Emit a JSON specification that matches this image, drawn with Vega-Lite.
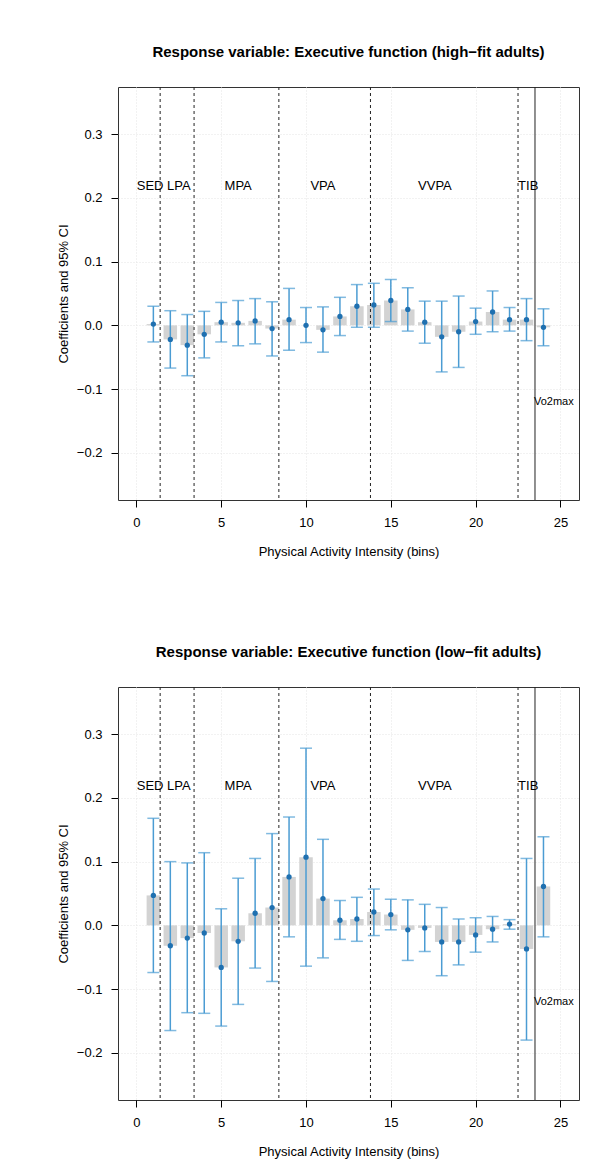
{
  "$schema": "https://vega.github.io/schema/vega-lite/v6.json",
  "background": "white",
  "padding": {"left": 56, "top": 44, "right": 10, "bottom": 0},
  "spacing": 85,
  "datasets": {
    "high": [
      {"bin": 1, "est": 0.002, "lo": -0.026, "hi": 0.030},
      {"bin": 2, "est": -0.022, "lo": -0.067, "hi": 0.023},
      {"bin": 3, "est": -0.031, "lo": -0.079, "hi": 0.017},
      {"bin": 4, "est": -0.014, "lo": -0.051, "hi": 0.022},
      {"bin": 5, "est": 0.005, "lo": -0.026, "hi": 0.036},
      {"bin": 6, "est": 0.004, "lo": -0.032, "hi": 0.039},
      {"bin": 7, "est": 0.007, "lo": -0.029, "hi": 0.042},
      {"bin": 8, "est": -0.005, "lo": -0.048, "hi": 0.037},
      {"bin": 9, "est": 0.009, "lo": -0.039, "hi": 0.058},
      {"bin": 10, "est": 0.000, "lo": -0.027, "hi": 0.028},
      {"bin": 11, "est": -0.007, "lo": -0.042, "hi": 0.029},
      {"bin": 12, "est": 0.014, "lo": -0.016, "hi": 0.044},
      {"bin": 13, "est": 0.030, "lo": -0.003, "hi": 0.064},
      {"bin": 14, "est": 0.032, "lo": -0.003, "hi": 0.066},
      {"bin": 15, "est": 0.039, "lo": 0.006, "hi": 0.072},
      {"bin": 16, "est": 0.025, "lo": -0.009, "hi": 0.059},
      {"bin": 17, "est": 0.005, "lo": -0.028, "hi": 0.038},
      {"bin": 18, "est": -0.018, "lo": -0.073, "hi": 0.038},
      {"bin": 19, "est": -0.010, "lo": -0.066, "hi": 0.046},
      {"bin": 20, "est": 0.006, "lo": -0.014, "hi": 0.027},
      {"bin": 21, "est": 0.021, "lo": -0.010, "hi": 0.054},
      {"bin": 22, "est": 0.009, "lo": -0.009, "hi": 0.028},
      {"bin": 23, "est": 0.009, "lo": -0.024, "hi": 0.042},
      {"bin": 24, "est": -0.003, "lo": -0.032, "hi": 0.026}
    ],
    "low": [
      {"bin": 1, "est": 0.047, "lo": -0.074, "hi": 0.168},
      {"bin": 2, "est": -0.032, "lo": -0.165, "hi": 0.100},
      {"bin": 3, "est": -0.020, "lo": -0.137, "hi": 0.098},
      {"bin": 4, "est": -0.012, "lo": -0.138, "hi": 0.114},
      {"bin": 5, "est": -0.066, "lo": -0.158, "hi": 0.026},
      {"bin": 6, "est": -0.025, "lo": -0.124, "hi": 0.074},
      {"bin": 7, "est": 0.019, "lo": -0.067, "hi": 0.105},
      {"bin": 8, "est": 0.028, "lo": -0.088, "hi": 0.144},
      {"bin": 9, "est": 0.076, "lo": -0.018, "hi": 0.170},
      {"bin": 10, "est": 0.107, "lo": -0.064, "hi": 0.278},
      {"bin": 11, "est": 0.042, "lo": -0.051, "hi": 0.135},
      {"bin": 12, "est": 0.008, "lo": -0.022, "hi": 0.039},
      {"bin": 13, "est": 0.010, "lo": -0.025, "hi": 0.044},
      {"bin": 14, "est": 0.021, "lo": -0.016, "hi": 0.057},
      {"bin": 15, "est": 0.017, "lo": -0.007, "hi": 0.041},
      {"bin": 16, "est": -0.007, "lo": -0.055, "hi": 0.040},
      {"bin": 17, "est": -0.004, "lo": -0.041, "hi": 0.033},
      {"bin": 18, "est": -0.026, "lo": -0.079, "hi": 0.028},
      {"bin": 19, "est": -0.026, "lo": -0.062, "hi": 0.010},
      {"bin": 20, "est": -0.015, "lo": -0.042, "hi": 0.012},
      {"bin": 21, "est": -0.006, "lo": -0.026, "hi": 0.014},
      {"bin": 22, "est": 0.002, "lo": -0.006, "hi": 0.009},
      {"bin": 23, "est": -0.037, "lo": -0.180, "hi": 0.105},
      {"bin": 24, "est": 0.061, "lo": -0.018, "hi": 0.139}
    ],
    "cuts": [
      {"at": 1.4, "kind": "dashed"},
      {"at": 3.4, "kind": "dashed"},
      {"at": 8.4, "kind": "dashed"},
      {"at": 13.8, "kind": "dashed"},
      {"at": 22.5, "kind": "dashed"},
      {"at": 23.5, "kind": "solid"}
    ],
    "regions": [
      {"label": "SED", "at": 0.81, "level": 0.218},
      {"label": "LPA", "at": 2.5, "level": 0.218},
      {"label": "MPA", "at": 6.0, "level": 0.218},
      {"label": "VPA", "at": 11.0, "level": 0.218},
      {"label": "VVPA", "at": 17.6, "level": 0.218},
      {"label": "TIB", "at": 23.1, "level": 0.218}
    ],
    "tag": [
      {"label": "Vo2max", "at": 23.5, "level": -0.121}
    ]
  },
  "config": {
    "font": "Liberation Sans",
    "view": {"stroke": "#333333", "strokeWidth": 1},
    "axis": {
      "labelFont": "Liberation Sans",
      "labelFontSize": 13,
      "labelColor": "#000000",
      "titleFont": "Liberation Sans",
      "titleFontSize": 13,
      "titleFontWeight": "normal",
      "titleColor": "#000000",
      "tickColor": "#000000",
      "tickSize": 7,
      "domain": false,
      "grid": true,
      "gridColor": "#e4e4e4",
      "gridDash": [1, 2],
      "gridWidth": 1
    },
    "title": {
      "font": "Liberation Sans",
      "fontSize": 15,
      "fontWeight": "bold",
      "color": "#000000",
      "anchor": "middle",
      "baseline": "alphabetic",
      "offset": 27
    }
  },
  "vconcat": [
    {
      "title": "Response variable: Executive function (high\u2212fit adults)",
      "width": 461,
      "height": 413,
      "layer": [
        {
          "data": {"name": "high"},
          "mark": {"type": "bar", "orient": "vertical", "size": 13.5, "color": "#d3d3d3"},
          "encoding": {
            "x": {"field": "bin", "type": "quantitative", "scale": {"domain": [-0.79, 25.8], "nice": false, "zero": false},
              "axis": {"values": [0, 5, 10, 15, 20, 25], "format": "d", "title": "Physical Activity Intensity (bins)", "labelPadding": 9, "titlePadding": 16}},
            "y": {"field": "est", "type": "quantitative", "scale": {"domain": [-0.274, 0.374], "nice": false, "zero": false},
              "axis": {"values": [-0.2, -0.1, 0, 0.1, 0.2, 0.3], "format": ".1f", "title": "Coefficients and 95% CI", "labelPadding": 9, "titlePadding": 6}}
          }
        },
        {
          "data": {"name": "cuts"},
          "mark": {"type": "rule", "color": "#222222", "strokeWidth": 1},
          "encoding": {
            "x": {"field": "at", "type": "quantitative"},
            "strokeDash": {"field": "kind", "type": "nominal", "scale": {"domain": ["dashed", "solid"], "range": [[3, 3], [1, 0]]}, "legend": null}
          }
        },
        {
          "mark": {"type": "rule", "color": "#666666", "strokeWidth": 1, "strokeDash": [3, 3]},
          "encoding": {"y": {"datum": 0, "type": "quantitative"}}
        },
        {
          "data": {"name": "high"},
          "mark": {"type": "rule", "color": "#4b9cd3", "strokeWidth": 1.5},
          "encoding": {
            "x": {"field": "bin", "type": "quantitative"},
            "y": {"field": "lo", "type": "quantitative"},
            "y2": {"field": "hi"}
          }
        },
        {
          "data": {"name": "high"},
          "mark": {"type": "tick", "orient": "horizontal", "color": "#4b9cd3", "size": 12, "thickness": 1.5},
          "encoding": {
            "x": {"field": "bin", "type": "quantitative"},
            "y": {"field": "lo", "type": "quantitative"}
          }
        },
        {
          "data": {"name": "high"},
          "mark": {"type": "tick", "orient": "horizontal", "color": "#4b9cd3", "size": 12, "thickness": 1.5},
          "encoding": {
            "x": {"field": "bin", "type": "quantitative"},
            "y": {"field": "hi", "type": "quantitative"}
          }
        },
        {
          "data": {"name": "high"},
          "mark": {"type": "circle", "color": "#1f70b0", "opacity": 1, "size": 28},
          "encoding": {
            "x": {"field": "bin", "type": "quantitative"},
            "y": {"field": "est", "type": "quantitative"}
          }
        },
        {
          "data": {"name": "regions"},
          "mark": {"type": "text", "fontSize": 13, "color": "#000000", "align": "center", "baseline": "middle"},
          "encoding": {
            "x": {"field": "at", "type": "quantitative"},
            "y": {"field": "level", "type": "quantitative"},
            "text": {"field": "label"}
          }
        },
        {
          "data": {"name": "tag"},
          "mark": {"type": "text", "fontSize": 11, "color": "#000000", "align": "left", "baseline": "middle", "dx": -1},
          "encoding": {
            "x": {"field": "at", "type": "quantitative"},
            "y": {"field": "level", "type": "quantitative"},
            "text": {"field": "label"}
          }
        }
      ]
    },
    {
      "title": "Response variable: Executive function (low\u2212fit adults)",
      "width": 461,
      "height": 413,
      "layer": [
        {
          "data": {"name": "low"},
          "mark": {"type": "bar", "orient": "vertical", "size": 13.5, "color": "#d3d3d3"},
          "encoding": {
            "x": {"field": "bin", "type": "quantitative", "scale": {"domain": [-0.79, 25.8], "nice": false, "zero": false},
              "axis": {"values": [0, 5, 10, 15, 20, 25], "format": "d", "title": "Physical Activity Intensity (bins)", "labelPadding": 9, "titlePadding": 16}},
            "y": {"field": "est", "type": "quantitative", "scale": {"domain": [-0.274, 0.374], "nice": false, "zero": false},
              "axis": {"values": [-0.2, -0.1, 0, 0.1, 0.2, 0.3], "format": ".1f", "title": "Coefficients and 95% CI", "labelPadding": 9, "titlePadding": 6}}
          }
        },
        {
          "data": {"name": "cuts"},
          "mark": {"type": "rule", "color": "#222222", "strokeWidth": 1},
          "encoding": {
            "x": {"field": "at", "type": "quantitative"},
            "strokeDash": {"field": "kind", "type": "nominal", "scale": {"domain": ["dashed", "solid"], "range": [[3, 3], [1, 0]]}, "legend": null}
          }
        },
        {
          "mark": {"type": "rule", "color": "#666666", "strokeWidth": 1, "strokeDash": [3, 3]},
          "encoding": {"y": {"datum": 0, "type": "quantitative"}}
        },
        {
          "data": {"name": "low"},
          "mark": {"type": "rule", "color": "#4b9cd3", "strokeWidth": 1.5},
          "encoding": {
            "x": {"field": "bin", "type": "quantitative"},
            "y": {"field": "lo", "type": "quantitative"},
            "y2": {"field": "hi"}
          }
        },
        {
          "data": {"name": "low"},
          "mark": {"type": "tick", "orient": "horizontal", "color": "#4b9cd3", "size": 12, "thickness": 1.5},
          "encoding": {
            "x": {"field": "bin", "type": "quantitative"},
            "y": {"field": "lo", "type": "quantitative"}
          }
        },
        {
          "data": {"name": "low"},
          "mark": {"type": "tick", "orient": "horizontal", "color": "#4b9cd3", "size": 12, "thickness": 1.5},
          "encoding": {
            "x": {"field": "bin", "type": "quantitative"},
            "y": {"field": "hi", "type": "quantitative"}
          }
        },
        {
          "data": {"name": "low"},
          "mark": {"type": "circle", "color": "#1f70b0", "opacity": 1, "size": 28},
          "encoding": {
            "x": {"field": "bin", "type": "quantitative"},
            "y": {"field": "est", "type": "quantitative"}
          }
        },
        {
          "data": {"name": "regions"},
          "mark": {"type": "text", "fontSize": 13, "color": "#000000", "align": "center", "baseline": "middle"},
          "encoding": {
            "x": {"field": "at", "type": "quantitative"},
            "y": {"field": "level", "type": "quantitative"},
            "text": {"field": "label"}
          }
        },
        {
          "data": {"name": "tag"},
          "mark": {"type": "text", "fontSize": 11, "color": "#000000", "align": "left", "baseline": "middle", "dx": -1},
          "encoding": {
            "x": {"field": "at", "type": "quantitative"},
            "y": {"field": "level", "type": "quantitative"},
            "text": {"field": "label"}
          }
        }
      ]
    }
  ]
}
